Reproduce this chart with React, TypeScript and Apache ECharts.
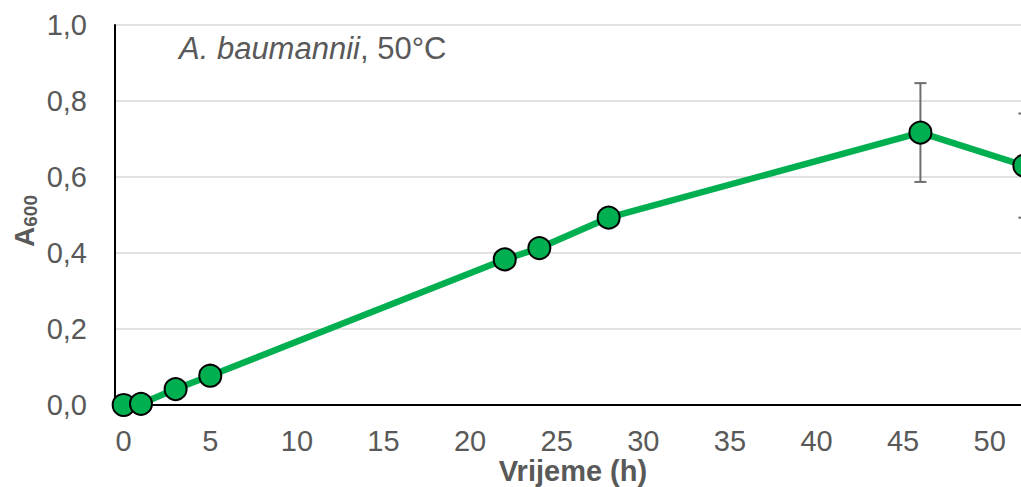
import React, { useEffect, useRef } from "react";
import * as echarts from "echarts";

const hours = [0, 1, 3, 5, 22, 24, 28, 46, 52];
const a600 = [0.0, 0.003, 0.042, 0.077, 0.383, 0.413, 0.493, 0.717, 0.63];
const errors = [0, 0, 0, 0, 0, 0, 0, 0.13, 0.137];
const xTickValues = [0, 5, 10, 15, 20, 25, 30, 35, 40, 45, 50];
const yTickLabels = ["0,0", "0,2", "0,4", "0,6", "0,8", "1,0"];

const FONT = "'Liberation Sans', Arial, sans-serif";
const GRAY = "#595959";

export default function App() {
  const ref = useRef<HTMLDivElement>(null);
  useEffect(() => {
    if (!ref.current) return;
    const chart = echarts.init(ref.current, undefined, { renderer: "svg" });
    const lineData = hours.map((h, i) => [h, a600[i]]);
    const errData = hours.map((h, i) => [h, a600[i], errors[i]]);
    chart.setOption({
      animation: false,
      backgroundColor: "#ffffff",
      grid: { left: 115, right: 1, top: 25, bottom: 82, containLabel: false },
      xAxis: {
        type: "value",
        min: -0.5,
        max: 54,
        axisLine: { show: true, onZero: false, lineStyle: { color: "#000", width: 2 } },
        axisTick: { show: false },
        splitLine: { show: false },
        axisLabel: {
          customValues: xTickValues,
          fontSize: 29,
          color: GRAY,
          fontFamily: FONT,
          margin: 21,
          formatter: (v: number) => String(v),
        },
      },
      yAxis: {
        type: "value",
        min: 0,
        max: 1,
        interval: 0.2,
        axisLine: { show: true, onZero: false, lineStyle: { color: "#000", width: 2 } },
        axisTick: { show: false },
        splitLine: { show: true, lineStyle: { color: "#d9d9d9", width: 1.5 } },
        axisLabel: {
          fontSize: 29,
          color: GRAY,
          fontFamily: FONT,
          margin: 28,
          formatter: (v: number) => yTickLabels[Math.round(v / 0.2)] ?? "",
        },
      },
      series: [
        {
          type: "custom",
          z: 1,
          clip: false,
          data: errData,
          renderItem: (params: any, api: any) => {
            const x = api.value(0);
            const y = api.value(1);
            const e = api.value(2);
            if (!e) return { type: "group", children: [] };
            const top = api.coord([x, y + e]);
            const bot = api.coord([x, y - e]);
            const cap = 6;
            const style = { stroke: "#6e6e6e", lineWidth: 2 };
            return {
              type: "group",
              children: [
                { type: "line", shape: { x1: top[0], y1: top[1], x2: bot[0], y2: bot[1] }, style },
                { type: "line", shape: { x1: top[0] - cap, y1: top[1], x2: top[0] + cap, y2: top[1] }, style },
                { type: "line", shape: { x1: bot[0] - cap, y1: bot[1], x2: bot[0] + cap, y2: bot[1] }, style },
              ],
            };
          },
        },
        {
          type: "line",
          z: 3,
          clip: false,
          data: lineData,
          symbol: "circle",
          symbolSize: 22,
          lineStyle: { color: "#00b050", width: 6.5 },
          itemStyle: { color: "#00b050", borderColor: "#000", borderWidth: 2 },
        },
      ],
      graphic: [
        {
          type: "text",
          left: 179,
          top: 33,
          style: {
            text: "{i|A. baumannii}{n|, 50°C}",
            rich: {
              i: { fontSize: 31, fontStyle: "italic", fill: GRAY, fontFamily: FONT },
              n: { fontSize: 31, fill: GRAY, fontFamily: FONT },
            },
          },
        },
        {
          type: "text",
          x: 573,
          y: 471,
          style: {
            text: "Vrijeme (h)",
            fontSize: 29,
            fontWeight: "bold",
            fill: GRAY,
            fontFamily: FONT,
            align: "center",
            verticalAlign: "middle",
          },
        },
        {
          type: "text",
          x: 24,
          y: 221,
          rotation: Math.PI / 2,
          style: {
            text: "{a|A}{s|600}",
            align: "center",
            verticalAlign: "middle",
            rich: {
              a: { fontSize: 28, fontWeight: "bold", fill: GRAY, fontFamily: FONT },
              s: {
                fontSize: 19,
                fontWeight: "bold",
                fill: GRAY,
                fontFamily: FONT,
                verticalAlign: "bottom",
                padding: [12, 0, 0, 0],
              },
            },
          },
        },
      ],
    });
    return () => chart.dispose();
  }, []);
  return (
    <div
      style={{
        position: "fixed",
        left: 0,
        top: 0,
        width: 1021,
        height: 487,
        overflow: "hidden",
        background: "#fff",
      }}
    >
      <div ref={ref} style={{ width: 1060, height: 487 }} />
    </div>
  );
}
